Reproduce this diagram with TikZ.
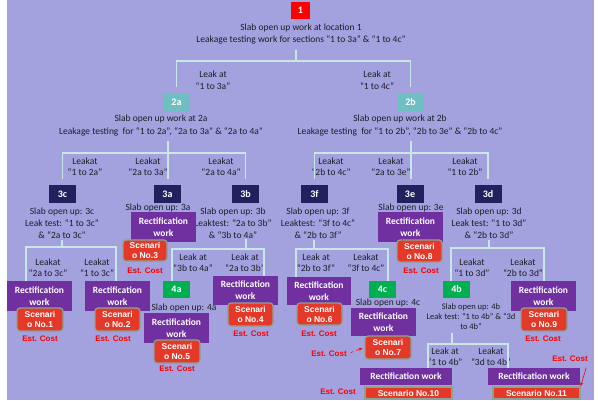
\documentclass[tikz,border=0pt]{standalone}
\usepackage{fontspec}
\setmainfont{Carlito}
\newfontfamily\arialfont{Liberation Sans}
\usetikzlibrary{arrows.meta}

\definecolor{bgc}{RGB}{163,161,222}
\definecolor{linec}{RGB}{200,232,232}
\definecolor{tealc}{RGB}{110,190,194}
\definecolor{navyc}{RGB}{35,32,96}
\definecolor{purpc}{RGB}{112,48,160}
\definecolor{greenc}{RGB}{0,176,80}
\definecolor{scenc}{RGB}{228,56,40}
\definecolor{scenl}{RGB}{140,162,150}
\definecolor{txtc}{RGB}{30,30,40}

\tikzset{
  conn/.style={draw=linec, line width=1.6pt},
  lbl/.style={anchor=north, align=center, inner sep=0pt, text=txtc,
    font=\fontsize{9.5}{12}\selectfont},
  numbox/.style={minimum width=27pt, minimum height=18pt, inner sep=0pt,
    text=white, font=\bfseries\fontsize{10}{12}\selectfont},
  rectwork/.style={fill=purpc, text=white, align=center, inner sep=0pt,
    minimum width=65pt, minimum height=30pt,
    font=\bfseries\fontsize{9.5}{12}\selectfont},
  scen/.style={fill=scenc, draw=scenl, line width=1.2pt, rounded corners=3pt,
    text=white, align=center, inner sep=0pt, minimum width=45pt, minimum height=22pt,
    font=\arialfont\bfseries\fontsize{8.5}{10}\selectfont},
  cost/.style={text=red, inner sep=0pt, font=\arialfont\bfseries\fontsize{8}{10}\selectfont},
  costarrow/.style={red, line width=0.6pt, -{Stealth[length=4pt,width=3pt]}}
}

\begin{document}
\begin{tikzpicture}[x=1pt,y=-1pt]
\useasboundingbox (0,0) rectangle (598,400);
\fill[bgc] (7,0) rectangle (594,400);

% level 1
\node[numbox, fill=red, minimum width=19pt, minimum height=17pt] (n1) at (300.5,10.5) {1};
\node[lbl] (t1) at (301,24) {Slab open up work at location 1\\Leakage testing work for sections “1 to 3a” \& “1 to 4c”};
\node[lbl] (l2a) at (213,71) {Leak at\\“1 to 3a”};
\node[lbl] (l2b) at (377,71) {Leak at\\“1 to 4c”};

% level 2
\node[numbox, fill=tealc] (n2a) at (176.5,102) {2a};
\node[numbox, fill=tealc] (n2b) at (410.5,102) {2b};
\node[lbl, font=\fontsize{9.5}{12.5}\selectfont] (t2a) at (161,115) {Slab open up work at 2a\\Leakage testing~ for “1 to 2a”, “2a to 3a” \& “2a to 4a”};
\node[lbl, font=\fontsize{9.5}{12.5}\selectfont] (t2b) at (400,115) {Slab open up work at 2b\\Leakage testing~ for “1 to 2b”, “2b to 3e” \& “2b to 4c”};

\node[lbl, font=\fontsize{9.5}{11}\selectfont] (l3c) at (85,158) {Leakat\\“1 to 2a”};
\node[lbl, font=\fontsize{9.5}{11}\selectfont] (l3a) at (148,158) {Leakat\\“2a to 3a”};
\node[lbl, font=\fontsize{9.5}{11}\selectfont] (l3b) at (221,158) {Leakat\\“2a to 4a”};
\node[lbl, font=\fontsize{9.5}{11}\selectfont] (l3f) at (331,158) {Leakat\\“2b to 4c”};
\node[lbl, font=\fontsize{9.5}{11}\selectfont] (l3e) at (391,158) {Leakat\\“2a to 3e”};
\node[lbl, font=\fontsize{9.5}{11}\selectfont] (l3d) at (465,158) {Leakat\\“1 to 2b”};

% level 3
\node[numbox, fill=navyc] (n3c) at (62.5,194) {3c};
\node[numbox, fill=navyc] (n3a) at (167.5,194) {3a};
\node[numbox, fill=navyc] (n3b) at (245.5,194) {3b};
\node[numbox, fill=navyc] (n3f) at (314.5,194) {3f};
\node[numbox, fill=navyc] (n3e) at (410,194) {3e};
\node[numbox, fill=navyc] (n3d) at (488,194) {3d};

\node[lbl] (t3c) at (62,208) {Slab open up: 3c\\Leak test: “1 to 3c”\\\& “2a to 3c”};
\node[lbl] (t3a) at (158,204) {Slab open up: 3a};
\node[lbl] (t3b) at (233,208) {Slab open up: 3b\\Leaktest: “2a to 3b”\\\& “3b to 4a”};
\node[lbl] (t3f) at (318,208) {Slab open up: 3f\\Leaktest: “3f to 4c”\\\& “2b to 3f”};
\node[lbl] (t3e) at (411,204) {Slab open up: 3e};
\node[lbl] (t3d) at (489,208) {Slab open up: 3d\\Leak test: “1 to 3d”\\\& “2b to 3d”};

\node[rectwork] (rw3) at (163.5,227) {Rectification\\work};
\node[scen, minimum width=44pt, minimum height=21pt] (sc3) at (145,250.5) {Scenari\\o No.3};
\node[cost] (ec3) at (145,271) {Est. Cost};
\node[rectwork] (rw8) at (410.5,227) {Rectification\\work};
\node[scen] (sc8) at (419.5,251) {Scenari\\o No.8};
\node[cost] (ec8) at (421,271) {Est. Cost};

\node[lbl, font=\fontsize{9.5}{11}\selectfont] (l4c1) at (48,259) {Leakat\\“2a to 3c”};
\node[lbl, font=\fontsize{9.5}{11}\selectfont] (l4c2) at (97,259) {Leakat\\“1 to 3c”};
\node[lbl, font=\fontsize{9.5}{10.5}\selectfont] (l4b1) at (193,254) {Leak at\\“3b to 4a”};
\node[lbl, font=\fontsize{9.5}{10.5}\selectfont] (l4b2) at (245,254) {Leak at\\“2a to 3b”};
\node[lbl, font=\fontsize{9.5}{10.5}\selectfont] (l4f1) at (316,254) {Leak at\\“2b to 3f”};
\node[lbl, font=\fontsize{9.5}{10.5}\selectfont] (l4f2) at (366,254) {Leakat\\“3f to 4c”};
\node[lbl, font=\fontsize{9.5}{11}\selectfont] (l4d1) at (472,259) {Leakat\\“1 to 3d”};
\node[lbl, font=\fontsize{9.5}{11}\selectfont] (l4d2) at (523,259) {Leakat\\“2b to 3d”};

% level 4
\node[rectwork] (rw1) at (39.5,296) {Rectification\\work};
\node[scen, minimum width=46pt, minimum height=23pt] (sc1) at (40,319.5) {Scenari\\o No.1};
\node[cost] (ec1) at (40,339) {Est. Cost};
\node[rectwork] (rw2) at (117.5,296) {Rectification\\work};
\node[scen, minimum height=23pt] (sc2) at (117.5,319.5) {Scenari\\o No.2};
\node[cost] (ec2) at (113,339) {Est. Cost};
\node[numbox, fill=greenc, minimum height=17pt] (n4a) at (176.5,289.5) {4a};
\node[lbl] (t4a) at (184,304) {Slab open up: 4a};
\node[rectwork] (rw5) at (176.5,328) {Rectification\\work};
\node[scen, minimum width=46pt, minimum height=23pt] (sc5) at (177,351.5) {Scenari\\o No.5};
\node[cost] (ec5) at (177,369) {Est. Cost};
\node[rectwork, minimum height=29pt] (rw4) at (245.5,290.5) {Rectification\\work};
\node[scen, minimum height=23pt] (sc4) at (250.5,314.5) {Scenari\\o No.4};
\node[cost] (ec4) at (251,334) {Est. Cost};

\node[rectwork, minimum width=64pt, minimum height=28pt] (rw6) at (319,291) {Rectification\\work};
\node[scen] (sc6) at (319.5,314) {Scenari\\o No.6};
\node[cost] (ec6) at (319,334) {Est. Cost};
\node[numbox, fill=greenc, minimum height=17pt] (n4c) at (382.5,289.5) {4c};
\node[lbl] (t4c) at (388,299) {Slab open up: 4c};
\node[rectwork, minimum height=28pt] (rw7) at (383.5,322) {Rectification\\work};
\node[scen, minimum width=46pt, minimum height=23pt] (sc7) at (388,347.5) {Scenari\\o No.7};
\node[cost] (ec7) at (329,354) {Est. Cost};
\node[numbox, fill=greenc, minimum height=17pt] (n4b) at (456.5,289.5) {4b};
\node[lbl, font=\fontsize{8.5}{10}\selectfont] (t4b) at (471,303.5) {Slab open up: 4b\\Leak test: “1 to 4b” \& “3d\\to 4b”};
\node[rectwork] (rw9) at (543.5,296) {Rectification\\work};
\node[scen, minimum width=46pt, minimum height=23pt] (sc9) at (544,319.5) {Scenari\\o No.9};
\node[cost] (ec9) at (543,339) {Est. Cost};

\node[lbl, font=\fontsize{9.5}{11}\selectfont] (l5b1) at (445,348) {Leak at\\“1 to 4b”};
\node[lbl, font=\fontsize{9.5}{11}\selectfont] (l5b2) at (491,348) {Leakat\\“3d to 4b”};

% level 5
\node[rectwork, minimum width=92pt, minimum height=17pt] (rw10) at (406,376.5) {Rectification work};
\node[scen, rounded corners=0pt, minimum width=87pt, minimum height=12pt] (sc10) at (408.5,393) {Scenario No.10};
\node[cost] (ec10) at (338,392) {Est. Cost};
\node[rectwork, minimum width=92pt, minimum height=17pt] (rw11) at (534,376.5) {Rectification work};
\node[scen, rounded corners=0pt, minimum width=87pt, minimum height=12pt] (sc11) at (536.5,393) {Scenario No.11};
\node[cost] (ec11) at (570,359) {Est. Cost};

% connectors
\coordinate (j1) at (296,61);
\draw[conn, shorten <=5pt] (j1 |- t1.south) -- (j1);
\draw[conn] ([yshift=6pt]n2a.north) |- (j1) -| ([yshift=6pt]n2b.north);

\coordinate (j2a) at (168,153);
\draw[conn, shorten <=5pt] (j2a |- t2a.south) -- ([yshift=6pt]n3a.north -| j2a);
\draw[conn] ([yshift=6pt]n3c.north) |- (j2a) -| ([yshift=6pt]n3b.north);
\coordinate (j2b) at (411,153);
\draw[conn, shorten <=5pt] (j2b |- t2b.south) -- ([yshift=6pt]n3e.north -| j2b);
\draw[conn] ([yshift=6pt]n3f.north) |- (j2b) -| ([yshift=6pt]n3d.north);

\coordinate (j3c) at (62,247);
\coordinate (j3cL) at (26,247);
\coordinate (j3cR) at (116,247);
\draw[conn, shorten <=1pt] (j3c |- t3c.south) -- (j3c);
\draw[conn] (j3cL |- rw1.north) -- (j3cL) -- (j3cR) -- (j3cR |- rw2.north);
\coordinate (j3b) at (246,249);
\coordinate (j3bL) at (172,249);
\coordinate (j3bR) at (264,249);
\draw[conn] (j3b |- t3b.south) -- (j3b);
\draw[conn] (j3bL |- n4a.north) -- (j3bL) -- (j3bR) -- (j3bR |- rw4.north);
\coordinate (j3f) at (314,249);
\coordinate (j3fL) at (296,249);
\coordinate (j3fR) at (388,249);
\draw[conn, shorten <=1pt] (j3f |- t3f.south) -- (j3f);
\draw[conn] (j3fL |- rw6.north) -- (j3fL) -- (j3fR) -- (j3fR |- n4c.north);
\coordinate (j3d) at (489,248);
\coordinate (j3dL) at (451,248);
\coordinate (j3dR) at (544,248);
\draw[conn, shorten <=1pt] (j3d |- t3d.south) -- (j3d);
\draw[conn] (j3dL |- n4b.north) -- (j3dL) -- (j3dR) -- (j3dR |- rw9.north);
\coordinate (j4b) at (452,344);
\coordinate (j4bL) at (428,344);
\coordinate (j4bR) at (508,344);
\draw[conn, shorten <=3pt] (j4b |- t4b.south) -- (j4b);
\draw[conn] (j4bL |- rw10.north) -- (j4bL) -- (j4bR) -- (j4bR |- rw11.north);

% cost pointers
\draw[costarrow, dashed, shorten <=4pt, shorten >=2pt] (ec7.east) -- (sc7.west);
\draw[costarrow, shorten <=6pt] (ec11.south east) -- (sc11.north east);
\end{tikzpicture}
\end{document}
